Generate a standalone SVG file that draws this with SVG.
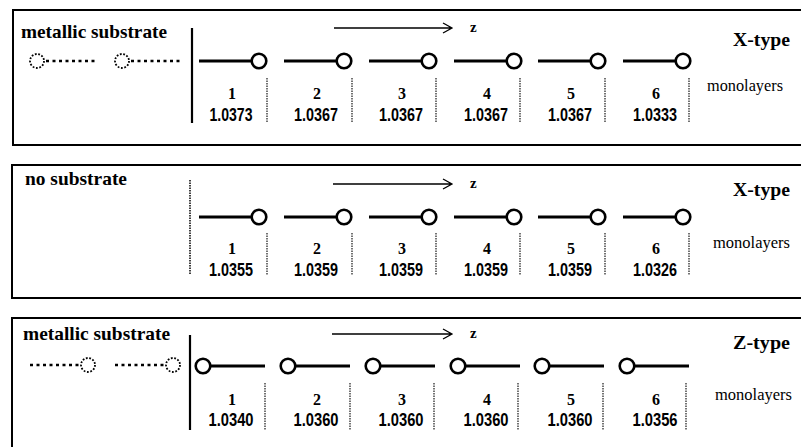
<svg xmlns="http://www.w3.org/2000/svg" width="801" height="447" viewBox="0 0 801 447">
<style>
.frame{fill:none;stroke:#000;stroke-width:2}
.bond{stroke:#000;stroke-width:3.2;fill:none}
.atom{fill:#fff;stroke:#000;stroke-width:2.6}
.sbond{stroke:#000;stroke-width:2.6;stroke-dasharray:3 3.5;fill:none}
.satom{fill:#fff;stroke:#000;stroke-width:1.8;stroke-dasharray:1.8 1.6}
.wall{stroke:#000;stroke-width:2.2}
.dwall{stroke:#000;stroke-width:1.5;stroke-dasharray:1.5 1}
.sep{stroke:#000;stroke-width:1.1;stroke-dasharray:1.5 1}
.arr{stroke:#000;stroke-width:1.3;fill:none}
.title{font-family:"Liberation Serif","Times New Roman",serif;font-weight:bold;font-size:19px}
.type{font-family:"Liberation Serif","Times New Roman",serif;font-weight:bold;font-size:19px}
.mono{font-family:"Liberation Serif","Times New Roman",serif;font-size:16px}
.num{font-family:"Liberation Serif","Times New Roman",serif;font-weight:bold;font-size:16px;text-anchor:middle}
.val{font-family:"Liberation Sans Narrow","Liberation Sans",Arial,sans-serif;font-weight:bold;font-size:18px;text-anchor:middle}
.z{font-family:"Liberation Serif","Times New Roman",serif;font-weight:bold;font-size:15px}
</style>
<defs>
<g id="xmol"><line class="bond" x1="-60" y1="0" x2="-7" y2="0"/><circle class="atom" cx="0" cy="0" r="7.3"/></g>
<g id="zmol"><line class="bond" x1="7" y1="0" x2="62" y2="0"/><circle class="atom" cx="0" cy="0" r="7.3"/></g>
</defs>

<!-- frames -->
<path class="frame" d="M801,10 H13 V145 H801"/>
<path class="frame" d="M801,165 H12 V298 H801"/>
<path class="frame" d="M801,318 H12 V447"/>

<!-- Panel 1 -->
<g id="panel1-title"><text class="title" x="21" y="38" textLength="146" lengthAdjust="spacingAndGlyphs">metallic substrate</text></g>
<g id="panel1-substrate">
<line class="sbond" x1="46" y1="61" x2="97" y2="61"/><circle class="satom" cx="37" cy="61" r="7"/>
<line class="sbond" x1="131" y1="61" x2="182" y2="61"/><circle class="satom" cx="122" cy="61" r="7"/>
<line class="wall" x1="192" y1="28" x2="192" y2="123"/>
</g>
<g id="panel1-m1"><use href="#xmol" x="259" y="61"/><text class="num" x="232" y="99">1</text><text class="val" x="231" y="121" textLength="43" lengthAdjust="spacingAndGlyphs">1.0373</text><line class="sep" x1="267" y1="78" x2="267" y2="123"/></g>
<g id="panel1-m2"><use href="#xmol" x="344" y="61"/><text class="num" x="317" y="99">2</text><text class="val" x="316" y="121" textLength="44" lengthAdjust="spacingAndGlyphs">1.0367</text><line class="sep" x1="352" y1="78" x2="352" y2="123"/></g>
<g id="panel1-m3"><use href="#xmol" x="429" y="61"/><text class="num" x="402" y="99">3</text><text class="val" x="401" y="121" textLength="44" lengthAdjust="spacingAndGlyphs">1.0367</text><line class="sep" x1="436" y1="78" x2="436" y2="123"/></g>
<g id="panel1-m4"><use href="#xmol" x="514" y="61"/><text class="num" x="487" y="99">4</text><text class="val" x="486" y="121" textLength="44" lengthAdjust="spacingAndGlyphs">1.0367</text><line class="sep" x1="520" y1="78" x2="520" y2="123"/></g>
<g id="panel1-m5"><use href="#xmol" x="598" y="61"/><text class="num" x="571" y="99">5</text><text class="val" x="570" y="121" textLength="44" lengthAdjust="spacingAndGlyphs">1.0367</text><line class="sep" x1="605" y1="78" x2="605" y2="123"/></g>
<g id="panel1-m6"><use href="#xmol" x="683" y="61"/><text class="num" x="656" y="99">6</text><text class="val" x="655" y="121" textLength="44" lengthAdjust="spacingAndGlyphs">1.0333</text><line class="sep" x1="689" y1="78" x2="689" y2="123"/></g>
<g id="panel1-type"><text class="type" x="733" y="46" textLength="57" lengthAdjust="spacingAndGlyphs">X-type</text><text class="mono" x="707" y="91" textLength="76" lengthAdjust="spacingAndGlyphs">monolayers</text></g>

<!-- Panel 2 -->
<g id="panel2-title"><text class="title" x="25" y="185" textLength="102" lengthAdjust="spacingAndGlyphs">no substrate</text></g>
<g id="panel2-wall"><line class="dwall" x1="190" y1="180" x2="190" y2="275"/></g>
<g id="panel2-m1"><use href="#xmol" x="259" y="217"/><text class="num" x="232" y="254">1</text><text class="val" x="231" y="276" textLength="44" lengthAdjust="spacingAndGlyphs">1.0355</text><line class="sep" x1="267" y1="233" x2="267" y2="275"/></g>
<g id="panel2-m2"><use href="#xmol" x="344" y="217"/><text class="num" x="317" y="254">2</text><text class="val" x="316" y="276" textLength="44" lengthAdjust="spacingAndGlyphs">1.0359</text><line class="sep" x1="352" y1="233" x2="352" y2="275"/></g>
<g id="panel2-m3"><use href="#xmol" x="429" y="217"/><text class="num" x="402" y="254">3</text><text class="val" x="401" y="276" textLength="44" lengthAdjust="spacingAndGlyphs">1.0359</text><line class="sep" x1="436" y1="233" x2="436" y2="275"/></g>
<g id="panel2-m4"><use href="#xmol" x="514" y="217"/><text class="num" x="487" y="254">4</text><text class="val" x="486" y="276" textLength="44" lengthAdjust="spacingAndGlyphs">1.0359</text><line class="sep" x1="520" y1="233" x2="520" y2="275"/></g>
<g id="panel2-m5"><use href="#xmol" x="598" y="217"/><text class="num" x="571" y="254">5</text><text class="val" x="570" y="276" textLength="44" lengthAdjust="spacingAndGlyphs">1.0359</text><line class="sep" x1="605" y1="233" x2="605" y2="275"/></g>
<g id="panel2-m6"><use href="#xmol" x="683" y="217"/><text class="num" x="656" y="254">6</text><text class="val" x="655" y="276" textLength="44" lengthAdjust="spacingAndGlyphs">1.0326</text><line class="sep" x1="689" y1="233" x2="689" y2="275"/></g>
<g id="panel2-type"><text class="type" x="733" y="196" textLength="57" lengthAdjust="spacingAndGlyphs">X-type</text><text class="mono" x="713" y="248" textLength="77" lengthAdjust="spacingAndGlyphs">monolayers</text></g>

<!-- Panel 3 -->
<g id="panel3-title"><text class="title" x="23" y="340" textLength="147" lengthAdjust="spacingAndGlyphs">metallic substrate</text></g>
<g id="panel3-substrate">
<line class="sbond" x1="30" y1="365" x2="80" y2="365"/><circle class="satom" cx="88" cy="365" r="7"/>
<line class="sbond" x1="115" y1="365" x2="165" y2="365"/><circle class="satom" cx="173" cy="365" r="7"/>
<line class="wall" x1="190" y1="335" x2="190" y2="430"/>
</g>
<g id="panel3-m1"><use href="#zmol" x="203" y="366"/><text class="num" x="232" y="405">1</text><text class="val" x="231" y="426" textLength="45" lengthAdjust="spacingAndGlyphs">1.0340</text><line class="sep" x1="265" y1="383" x2="265" y2="430"/></g>
<g id="panel3-m2"><use href="#zmol" x="288" y="366"/><text class="num" x="317" y="405">2</text><text class="val" x="316" y="426" textLength="45" lengthAdjust="spacingAndGlyphs">1.0360</text><line class="sep" x1="350" y1="383" x2="350" y2="430"/></g>
<g id="panel3-m3"><use href="#zmol" x="373" y="366"/><text class="num" x="402" y="405">3</text><text class="val" x="401" y="426" textLength="45" lengthAdjust="spacingAndGlyphs">1.0360</text><line class="sep" x1="434" y1="383" x2="434" y2="430"/></g>
<g id="panel3-m4"><use href="#zmol" x="458" y="366"/><text class="num" x="487" y="405">4</text><text class="val" x="486" y="426" textLength="45" lengthAdjust="spacingAndGlyphs">1.0360</text><line class="sep" x1="518" y1="383" x2="518" y2="430"/></g>
<g id="panel3-m5"><use href="#zmol" x="542" y="366"/><text class="num" x="571" y="405">5</text><text class="val" x="570" y="426" textLength="45" lengthAdjust="spacingAndGlyphs">1.0360</text><line class="sep" x1="603" y1="383" x2="603" y2="430"/></g>
<g id="panel3-m6"><use href="#zmol" x="627" y="366"/><text class="num" x="656" y="405">6</text><text class="val" x="655" y="426" textLength="45" lengthAdjust="spacingAndGlyphs">1.0356</text><line class="sep" x1="686" y1="383" x2="686" y2="430"/></g>
<g id="panel3-type"><text class="type" x="733" y="349" textLength="57" lengthAdjust="spacingAndGlyphs">Z-type</text><text class="mono" x="715" y="400" textLength="77" lengthAdjust="spacingAndGlyphs">monolayers</text></g>

<!-- connectors: z-direction arrows -->
<g id="connectors">
<path class="arr" d="M334,28 H452 M443,23 L452,28 L443,33"/>
<path class="arr" d="M333,184 H452 M443,179 L452,184 L443,189"/>
<path class="arr" d="M332,334 H452 M443,329 L452,334 L443,339"/>
</g>
<g id="z-labels">
<text class="z" x="470" y="32">z</text>
<text class="z" x="470" y="188">z</text>
<text class="z" x="470" y="338">z</text>
</g>
</svg>
